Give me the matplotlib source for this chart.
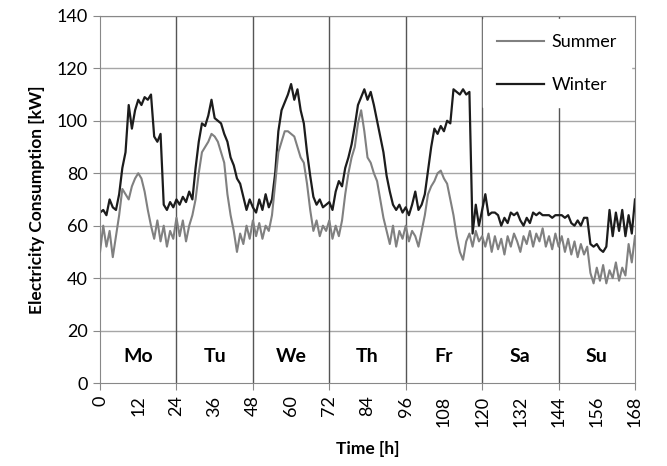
import numpy as np
import matplotlib
matplotlib.use('Agg')
import matplotlib.pyplot as plt
from matplotlib.ticker import FixedLocator, FixedFormatter

plt.rcParams['font.family'] = ['Lato', 'DejaVu Sans']

hours = list(range(0, 169))

winter = [
    65, 66, 64, 70, 67, 66, 72, 82, 88, 106, 97, 104, 108, 106, 109, 108, 110, 94, 92, 95,
    68, 66, 69, 67, 70, 68, 71, 69, 73, 70, 82, 92, 99, 98, 102, 108, 101, 100, 99, 95,
    92, 86, 83, 78, 76, 71, 66, 70, 67, 65, 70, 66, 72, 67, 70, 80, 96, 104, 107, 110,
    114, 108, 112, 104, 99, 88, 79, 71, 68, 70, 67, 68, 69, 66, 73, 77, 75, 82, 86, 91,
    98, 106, 109, 112, 108, 111, 106, 100, 94, 88, 79, 73, 68, 66, 68, 65, 67, 64, 68, 73,
    66, 68, 72, 81, 90, 97, 95, 98, 96, 100, 99, 112, 111, 110, 112, 110, 111, 57, 68, 60,
    66, 72, 64, 65, 65, 64, 60, 63, 61, 65, 64, 65, 62, 60, 63, 61, 65, 64, 65, 64,
    64, 64, 63, 64, 64, 64, 63, 64, 61, 60, 62, 60, 63, 63, 53, 52, 53, 51, 50, 52,
    66, 56, 65, 58, 66, 56, 64, 57, 70,
]

summer = [
    50, 60, 52, 58, 48, 56, 64, 74, 72, 70, 75, 78, 80, 78, 73, 66, 60, 55, 62, 54,
    60, 52, 58, 55, 63, 56, 62, 54, 60, 64, 70, 80, 88, 90, 92, 95, 94, 92, 88, 84,
    72, 64, 58, 50, 57, 53, 60, 55, 62, 56, 61, 55, 60, 58, 64, 76, 88, 92, 96, 96,
    95, 94, 90, 86, 84, 76, 66, 58, 62, 56, 60, 58, 62, 55, 60, 56, 62, 72, 80, 86,
    90, 99, 104, 96, 86, 84, 80, 77, 70, 63, 58, 53, 60, 52, 58, 55, 60, 54, 58, 56,
    52, 58, 64, 72, 75, 77, 80, 81, 78, 76, 70, 64, 56, 50, 47, 54, 57, 52, 58, 54,
    56, 52, 57, 50, 56, 51, 55, 49, 56, 52, 57, 54, 50, 56, 53, 58, 52, 57, 54, 59,
    52, 56, 51, 57, 52, 56, 50, 55, 49, 54, 48, 53, 49, 52, 42, 38, 44, 39, 45, 38,
    43, 40, 46, 39, 44, 41, 53, 46, 56,
]

days = ['Mo', 'Tu', 'We', 'Th', 'Fr', 'Sa', 'Su']
day_centers = [12, 36, 60, 84, 108, 132, 156]
x_ticks_major = [0, 24, 48, 72, 96, 120, 144, 168]
x_ticks_minor = [12, 36, 60, 84, 108, 132, 156]
y_ticks = [0, 20, 40, 60, 80, 100, 120, 140]

fig = plt.figure(figsize=(6.67, 4.66), dpi=100)
ax = fig.add_axes([0.150, 0.178, 0.802, 0.788])

for y in y_ticks[1:]:
    ax.axhline(y, color='#a6a6a6', lw=1.0, zorder=1)
for x in x_ticks_major[1:-1]:
    ax.axvline(x, color='#555555', lw=1.0, zorder=1)

ax.plot(hours, summer, color='#808080', lw=1.5, label='Summer', zorder=3)
ax.plot(hours, winter, color='#1c1c1c', lw=1.6, label='Winter', zorder=2)

for d, c in zip(days, day_centers):
    ax.text(c, 10, d, ha='center', va='center', fontsize=14, fontweight='bold')

ax.set_xlim(0, 168)
ax.set_ylim(0, 140)
ax.xaxis.set_major_locator(FixedLocator(x_ticks_major))
ax.xaxis.set_minor_locator(FixedLocator(x_ticks_minor))
ax.xaxis.set_minor_formatter(FixedFormatter([str(v) for v in x_ticks_minor]))
ax.set_xticklabels([str(v) for v in x_ticks_major])
ax.tick_params(axis='x', which='major', length=5, color='#888888', labelsize=13,
               labelrotation=90, pad=4)
ax.tick_params(axis='x', which='minor', length=0, labelsize=13, labelrotation=90, pad=9)
ax.set_yticks(y_ticks)
ax.tick_params(axis='y', length=5, color='#888888', labelsize=13, pad=4)

for s in ax.spines.values():
    s.set_color('#888888')

ax.set_xlabel('Time [h]', fontsize=12.5, fontweight='bold', labelpad=10)
ax.set_ylabel('Electricity Consumption [kW]', fontsize=12.5, fontweight='bold', labelpad=8)

leg = ax.legend(loc='upper right', fontsize=13, frameon=True, framealpha=1,
                edgecolor='white', facecolor='white', fancybox=False,
                handlelength=2.6, handletextpad=0.4, labelspacing=1.5,
                borderaxespad=0.2, borderpad=0.8)
leg.set_zorder(5)

fig.savefig('out.png', dpi=100)
